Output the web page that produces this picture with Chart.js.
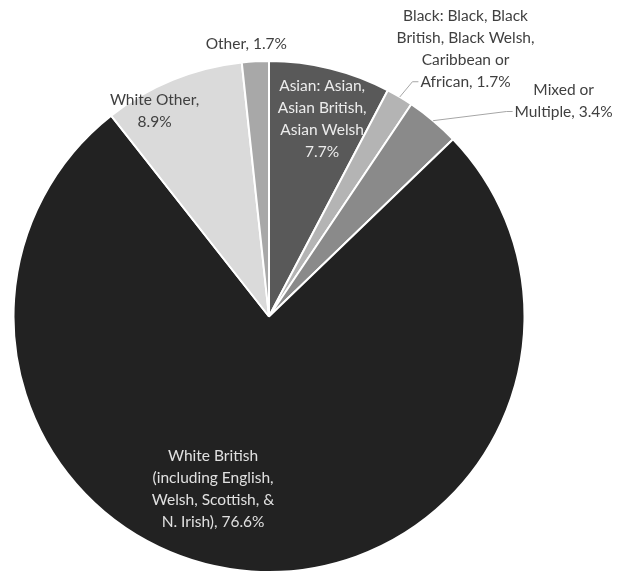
<!DOCTYPE html>
<html lang="en">
<head>
  <meta charset="UTF-8">
  <title>Ethnicity</title>
  <script src="https://cdn.jsdelivr.net/npm/chart.js"></script>
  <style>
    html, body { margin: 0; padding: 0; background: #fff; overflow: hidden; }
    #box { width: 618px; height: 573px; }
  </style>
</head>
<body>
  <div id="box">
    <canvas id="grafico" width="618" height="573"></canvas>
  </div>

<script>
  // dados
  const categorias = ['Asian: Asian, Asian British, Asian Welsh', 'Black: Black, Black British, Black Welsh, Caribbean or African',
    'Mixed or Multiple', 'White British (including English, Welsh, Scottish, & N. Irish)', 'White Other', 'Other'];
  const percentuais = [7.7, 1.7, 3.4, 76.6, 8.9, 1.7];
  const linhasRotulo = [
    ['Asian: Asian,', 'Asian British,', 'Asian Welsh', '7.7%'],
    ['Black: Black, Black', 'British, Black Welsh,', 'Caribbean or', 'African, 1.7%'],
    ['Mixed or', 'Multiple, 3.4%'],
    ['White British', '(including English,', 'Welsh, Scottish, &', 'N. Irish), 76.6%'],
    ['White Other,', '8.9%'],
    ['Other, 1.7%']
  ];
  const cores = ['#595959', '#b4b4b4', '#8a8a8a', '#222222', '#dadada', '#a8a8a8'];

  // posicao dos rotulos: fracao do raio e desvio do angulo (graus) em relacao ao meio da fatia
  const rotuloRaio = [0.80, 1.30, 1.43, 0.71, 0.92, 1.07];
  const rotuloDesvio = [1.2, 5.5, 13.8, 14, -7, -1.7];
  const rotuloCor = ['#ececec', '#404040', '#404040', '#e0e0e0', '#404040', '#404040'];
  const comLinha = [false, true, true, false, false, false];

  const pluginRotulos = {
    id: 'rotulos',
    afterDatasetsDraw(chart) {
      const ctx = chart.ctx;
      const arcos = chart.getDatasetMeta(0).data;
      ctx.save();
      ctx.font = '15.5px Lato, "Open Sans", sans-serif';
      ctx.textAlign = 'center';
      ctx.textBaseline = 'middle';
      const alturaLinha = 22;
      arcos.forEach((arco, i) => {
        const p = arco.getProps(['x', 'y', 'startAngle', 'endAngle', 'outerRadius'], true);
        const meio = (p.startAngle + p.endAngle) / 2;
        const ang = meio + rotuloDesvio[i] * Math.PI / 180;
        const cx = p.x + Math.cos(ang) * p.outerRadius * rotuloRaio[i];
        const cy = p.y + Math.sin(ang) * p.outerRadius * rotuloRaio[i];
        const linhas = linhasRotulo[i];
        const topo = cy - (linhas.length - 1) * alturaLinha / 2;
        ctx.fillStyle = rotuloCor[i];
        linhas.forEach((t, k) => ctx.fillText(t, cx, topo + k * alturaLinha));

        if (comLinha[i]) {
          const ultima = linhas[linhas.length - 1];
          const ly = topo + (linhas.length - 1) * alturaLinha;
          const lx = cx - ctx.measureText(ultima).width / 2 - 2;
          const ax = p.x + Math.cos(meio) * p.outerRadius;
          const ay = p.y + Math.sin(meio) * p.outerRadius;
          ctx.strokeStyle = '#a6a6a6';
          ctx.lineWidth = 1;
          ctx.beginPath();
          ctx.moveTo(ax, ay);
          ctx.lineTo(lx - 6, ly);
          ctx.lineTo(lx, ly);
          ctx.stroke();
        }
      });
      ctx.restore();
    }
  };

  const ctxPizza = document.getElementById('grafico');
  new Chart(ctxPizza, {
    type: 'pie',
    data: {
      labels: categorias,
      datasets: [{
        data: percentuais,
        backgroundColor: cores,
        borderColor: '#ffffff',
        borderWidth: 2
      }]
    },
    options: {
      responsive: false,
      animation: false,
      layout: { padding: { left: 12, right: 92, top: 60, bottom: 0 } },
      plugins: {
        legend: { display: false },
        tooltip: { enabled: false }
      }
    },
    plugins: [pluginRotulos]
  });
</script>
</body>
</html>
